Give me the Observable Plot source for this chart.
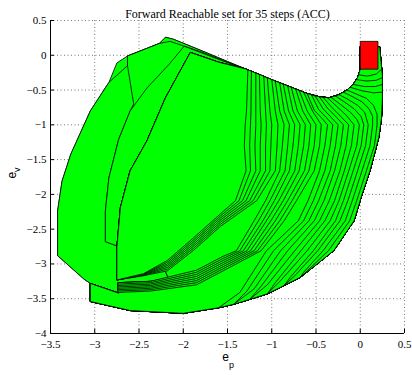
<!DOCTYPE html>
<html><head><meta charset="utf-8">
<script src="https://cdn.jsdelivr.net/npm/d3@7"></script>
<script src="https://cdn.jsdelivr.net/npm/@observablehq/plot@0.6"></script>
<style>body{margin:0;background:#fff;}#chart{width:412px;height:375px;}</style>
</head><body><div id="chart"></div>
<script>
const titleText = "Forward Reachable set for 35 steps (ACC)";
const xTicks = [-3.5,-3,-2.5,-2,-1.5,-1,-0.5,0,0.5];
const yTicks = [-4,-3.5,-3,-2.5,-2,-1.5,-1,-0.5,0,0.5];

// initial set (step 0)
const initialSet = [[0,-0.2],[0.2,-0.2],[0.2,0.2],[0,0.2]];
const boxCorner = [0.00,0.12];

// shared upper boundary (left -> right)
const topCurve = [[-1.80,0.07],[-1.50,-0.09],[-1.25,-0.22],[-1.00,-0.35],[-0.80,-0.45],[-0.60,-0.55],[-0.45,-0.60],[-0.35,-0.61],[-0.25,-0.57],[-0.15,-0.50],[-0.08,-0.42],[-0.03,-0.32],[0.00,-0.20]];
// outer right / bottom boundary (clockwise from top right)
const rightPath = [[0.22,0.12],[0.23,-0.03],[0.25,-0.30],[0.25,-0.61],[0.24,-0.90],[0.21,-1.18],[0.11,-1.66],[0.02,-2.00],[-0.07,-2.38],[-0.30,-2.81],[-0.675,-3.19],[-0.86,-3.31],[-1.05,-3.43],[-1.25,-3.51],[-1.43,-3.58],[-1.60,-3.63],[-2.00,-3.71],[-2.60,-3.67],[-3.05,-3.54],[-3.05,-3.28]];
// left boundaries of the largest sets
const left35 = [[-3.12,-3.22],[-3.42,-2.88],[-3.42,-2.24],[-3.37,-1.81],[-3.27,-1.42],[-3.05,-0.80],[-2.84,-0.39],[-2.75,-0.11],[-2.63,-0.01],[-2.37,0.12],[-2.27,0.17],[-2.20,0.26],[-2.11,0.23]];
const left34 = [[-3.12,-3.22],[-3.42,-2.88],[-3.42,-2.24],[-3.37,-1.81],[-3.27,-1.42],[-3.05,-0.80],[-2.84,-0.39],[-2.63,-0.15],[-2.63,-0.01],[-2.37,0.12],[-2.27,0.17],[-2.20,0.26],[-2.11,0.23]];
const bottomClose = [[-2.73,-3.42],[-2.74,-3.27],[-2.37,-3.25],[-2.17,-3.20],[-2.22,-3.05],[-2.45,-3.15],[-2.75,-3.23]];
const left33 = [[-2.75,-2.74],[-2.88,-2.68],[-2.88,-2.24],[-2.84,-1.76],[-2.73,-1.21],[-2.60,-0.80],[-2.56,-0.70],[-2.63,-0.15],[-2.63,-0.01],[-2.37,0.12],[-2.27,0.17],[-2.15,0.20],[-1.80,0.05],[-1.50,-0.10],[-1.30,-0.195]];
const left32 = [[-2.75,-2.74],[-2.88,-2.68],[-2.88,-2.24],[-2.84,-1.76],[-2.73,-1.21],[-2.60,-0.80],[-2.41,-0.47],[-2.16,-0.13],[-1.99,0.13],[-1.70,-0.01],[-1.45,-0.13],[-1.30,-0.195]];
const left31 = [[-2.75,-2.76],[-2.71,-2.19],[-2.60,-1.66],[-2.41,-1.23],[-2.20,-0.61],[-1.92,0.04],[-1.60,-0.10],[-1.30,-0.195]];

// inner arcs closing on left31 (steps 24..30)
const innerArcs = [
 [[-1.00,-0.35],[-0.96,-0.8],[-0.93,-1.0],[-0.94,-1.3],[-0.96,-1.66],[-1.17,-2.09],[-1.58,-2.46],[-1.88,-2.80],[-2.18,-3.10],[-2.45,-3.17],[-2.75,-3.23]],
 [[-1.05,-0.325],[-1.02,-0.8],[-1.00,-1.0],[-1.01,-1.3],[-1.02,-1.66],[-1.21,-2.09],[-1.58,-2.43],[-1.88,-2.77],[-2.18,-3.075],[-2.45,-3.165],[-2.75,-3.23]],
 [[-1.09,-0.30],[-1.07,-0.8],[-1.06,-1.0],[-1.07,-1.3],[-1.07,-1.66],[-1.25,-2.09],[-1.58,-2.40],[-1.88,-2.74],[-2.18,-3.05],[-2.45,-3.16],[-2.75,-3.23]],
 [[-1.14,-0.275],[-1.13,-0.8],[-1.12,-1.0],[-1.13,-1.3],[-1.13,-1.66],[-1.29,-2.09],[-1.58,-2.37],[-1.88,-2.71],[-2.18,-3.025],[-2.45,-3.155],[-2.75,-3.23]],
 [[-1.18,-0.255],[-1.18,-0.8],[-1.18,-1.0],[-1.19,-1.3],[-1.18,-1.66],[-1.33,-2.09],[-1.58,-2.34],[-1.88,-2.68],[-2.18,-3.00],[-2.45,-3.15],[-2.75,-3.23]],
 [[-1.23,-0.23],[-1.235,-0.8],[-1.24,-1.0],[-1.25,-1.3],[-1.24,-1.66],[-1.37,-2.09],[-1.58,-2.31],[-1.88,-2.65],[-2.18,-2.975],[-2.45,-3.145],[-2.75,-3.23]],
 [[-1.27,-0.21],[-1.285,-0.8],[-1.30,-1.0],[-1.31,-1.3],[-1.29,-1.66],[-1.41,-2.09],[-1.58,-2.28],[-1.88,-2.62],[-2.18,-2.95],[-2.45,-3.14],[-2.75,-3.23]]
];

// middle arcs ending at the lower-left notch (steps 16..23)
const middleArcs = [
 [[-0.64,-0.53],[-0.54,-0.8],[-0.44,-1.0],[-0.46,-1.3],[-0.52,-1.66],[-0.72,-2.09],[-0.86,-2.38],[-1.12,-2.81],[-1.55,-3.10],[-1.85,-3.30],[-2.37,-3.39],[-2.74,-3.41],[-2.73,-3.42],[-3.05,-3.28]],
 [[-0.69,-0.505],[-0.60,-0.8],[-0.50,-1.0],[-0.52,-1.3],[-0.58,-1.66],[-0.77,-2.09],[-0.91,-2.38],[-1.16,-2.81],[-1.55,-3.07],[-1.85,-3.27],[-2.37,-3.37],[-2.74,-3.39],[-2.73,-3.42],[-3.05,-3.28]],
 [[-0.73,-0.485],[-0.65,-0.8],[-0.56,-1.0],[-0.58,-1.3],[-0.63,-1.66],[-0.82,-2.09],[-0.96,-2.38],[-1.20,-2.81],[-1.55,-3.04],[-1.85,-3.24],[-2.37,-3.35],[-2.74,-3.37],[-2.73,-3.42],[-3.05,-3.28]],
 [[-0.78,-0.46],[-0.71,-0.8],[-0.62,-1.0],[-0.64,-1.3],[-0.69,-1.66],[-0.87,-2.09],[-1.01,-2.38],[-1.24,-2.81],[-1.55,-3.01],[-1.85,-3.21],[-2.37,-3.33],[-2.74,-3.35],[-2.73,-3.42],[-3.05,-3.28]],
 [[-0.82,-0.44],[-0.76,-0.8],[-0.68,-1.0],[-0.70,-1.3],[-0.74,-1.66],[-0.92,-2.09],[-1.06,-2.38],[-1.28,-2.81],[-1.55,-2.98],[-1.85,-3.18],[-2.37,-3.31],[-2.74,-3.33],[-2.73,-3.42],[-3.05,-3.28]],
 [[-0.87,-0.415],[-0.81,-0.8],[-0.74,-1.0],[-0.76,-1.3],[-0.80,-1.66],[-0.97,-2.09],[-1.10,-2.38],[-1.32,-2.81],[-1.55,-2.95],[-1.85,-3.15],[-2.37,-3.29],[-2.74,-3.31],[-2.73,-3.42],[-3.05,-3.28]],
 [[-0.91,-0.395],[-0.86,-0.8],[-0.80,-1.0],[-0.82,-1.3],[-0.85,-1.66],[-1.02,-2.09],[-1.15,-2.38],[-1.36,-2.81],[-1.55,-2.92],[-1.85,-3.12],[-2.37,-3.27],[-2.74,-3.29],[-2.73,-3.42],[-3.05,-3.28]],
 [[-0.96,-0.37],[-0.91,-0.8],[-0.86,-1.0],[-0.88,-1.3],[-0.91,-1.66],[-1.07,-2.09],[-1.20,-2.38],[-1.40,-2.81],[-1.55,-2.89],[-1.85,-3.09],[-2.37,-3.25],[-2.74,-3.27],[-2.73,-3.42],[-3.05,-3.28]]
];
const middleCut = [19,19,19,19,19,19,19,19];

// outer arcs hugging the boundary (steps 5..15)
const outerArcs = [
 [[-0.15,-0.50],[-0.04,-0.56],[0.07,-0.62],[0.15,-0.72],[0.19,-0.85],[0.19,-1.0],[0.16,-1.3],[0.07,-1.66],[-0.04,-2.09],[-0.12,-2.38],[-0.36,-2.81],[-0.60,-3.10],[-0.675,-3.19]],
 [[-0.19,-0.53],[-0.08,-0.60],[0.02,-0.67],[0.10,-0.77],[0.14,-0.88],[0.14,-1.0],[0.11,-1.3],[0.02,-1.66],[-0.09,-2.09],[-0.17,-2.38],[-0.42,-2.81],[-0.64,-3.12],[-0.675,-3.19]],
 [[-0.24,-0.565],[-0.13,-0.64],[-0.03,-0.72],[0.05,-0.82],[0.09,-1.0],[0.06,-1.3],[-0.03,-1.66],[-0.14,-2.09],[-0.23,-2.38],[-0.48,-2.81],[-0.74,-3.17],[-0.86,-3.31]],
 [[-0.28,-0.585],[-0.18,-0.67],[-0.07,-0.77],[0.01,-0.88],[0.04,-1.0],[0.01,-1.3],[-0.08,-1.66],[-0.19,-2.09],[-0.28,-2.38],[-0.53,-2.81],[-0.79,-3.19],[-0.86,-3.31]],
 [[-0.33,-0.605],[-0.22,-0.71],[-0.11,-0.82],[-0.04,-0.92],[-0.01,-1.0],[-0.04,-1.3],[-0.13,-1.66],[-0.24,-2.09],[-0.34,-2.38],[-0.60,-2.81],[-0.90,-3.24],[-1.05,-3.43]],
 [[-0.37,-0.61],[-0.27,-0.73],[-0.16,-0.86],[-0.07,-1.0],[-0.10,-1.3],[-0.18,-1.66],[-0.29,-2.09],[-0.40,-2.38],[-0.67,-2.81],[-0.96,-3.27],[-1.05,-3.43]],
 [[-0.42,-0.605],[-0.32,-0.75],[-0.22,-0.88],[-0.13,-1.0],[-0.16,-1.3],[-0.23,-1.66],[-0.35,-2.09],[-0.46,-2.38],[-0.74,-2.81],[-1.05,-3.30],[-1.25,-3.51]],
 [[-0.46,-0.60],[-0.37,-0.76],[-0.27,-0.89],[-0.19,-1.0],[-0.22,-1.3],[-0.29,-1.66],[-0.41,-2.09],[-0.52,-2.38],[-0.82,-2.81],[-1.12,-3.32],[-1.25,-3.51]],
 [[-0.51,-0.585],[-0.42,-0.77],[-0.33,-0.89],[-0.25,-1.0],[-0.28,-1.3],[-0.34,-1.66],[-0.47,-2.09],[-0.58,-2.38],[-0.90,-2.81],[-1.20,-3.36],[-1.43,-3.58]],
 [[-0.55,-0.57],[-0.47,-0.78],[-0.38,-0.90],[-0.31,-1.0],[-0.34,-1.3],[-0.40,-1.66],[-0.53,-2.09],[-0.64,-2.38],[-0.98,-2.81],[-1.28,-3.39],[-1.43,-3.58]],
 [[-0.60,-0.55],[-0.52,-0.79],[-0.43,-0.91],[-0.37,-1.0],[-0.40,-1.3],[-0.46,-1.66],[-0.59,-2.09],[-0.70,-2.38],[-1.06,-2.81],[-1.36,-3.41],[-1.60,-3.63]]
];
const outerCut = [10,10,11,11,12,12,13,13,14,14,15];

// first sets around the initial box (steps 1..4)
const smallArcs = [
 [[-0.02,-0.28],[0.08,-0.30],[0.18,-0.27],[0.243,-0.20]],
 [[-0.045,-0.35],[0.07,-0.37],[0.18,-0.36],[0.25,-0.32]],
 [[-0.08,-0.42],[0.05,-0.45],[0.17,-0.45],[0.25,-0.42]],
 [[-0.115,-0.46],[0.02,-0.51],[0.15,-0.54],[0.25,-0.53]]
];
const smallCut = [2,3,3,3];

// ---- build polygons (largest drawn first) ----
function rightSet(arc, cut) {
  const a = arc[0];
  return [a, ...topCurve.filter(p => p[0] > a[0]), boxCorner, ...rightPath.slice(0, cut), ...arc.slice().reverse()];
}
function leftSet(arc) {
  const a = arc[0];
  return [...arc, ...left31, ...topCurve.filter(p => p[0] > -1.30 && p[0] < a[0]), a];
}
const sets = [];
sets.push([boxCorner, ...rightPath, ...left35, ...topCurve]);
sets.push([boxCorner, ...rightPath, ...left34, ...topCurve]);
sets.push([boxCorner, ...rightPath, ...bottomClose, ...left33, ...topCurve.filter(p => p[0] > -1.30)]);
sets.push([boxCorner, ...rightPath, ...bottomClose, ...left32, ...topCurve.filter(p => p[0] > -1.30)]);
sets.push([boxCorner, ...rightPath, ...bottomClose, ...left31, ...topCurve.filter(p => p[0] > -1.30)]);
innerArcs.forEach(arc => sets.push(leftSet(arc)));
for (let i = middleArcs.length - 1; i >= 0; i--) sets.push(rightSet(middleArcs[i], middleCut[i]));
for (let i = outerArcs.length - 1; i >= 0; i--) sets.push(rightSet(outerArcs[i], outerCut[i]));
for (let i = smallArcs.length - 1; i >= 0; i--) sets.push(rightSet(smallArcs[i], smallCut[i]));

const rows = [];
sets.forEach((poly, i) => {
  poly.forEach(([x, y]) => rows.push({set: i, x, y}));
  rows.push({set: i, x: poly[0][0], y: poly[0][1]});
});
const boxRows = [...initialSet, initialSet[0]].map(([x, y]) => ({x, y}));

const serif = "'Liberation Serif','Times New Roman',Times,serif";
const sans = "'Liberation Sans',Arial,Helvetica,sans-serif";
const fmt = d => (d < 0 ? "\u2212" : "") + String(Math.abs(d));

const chart = Plot.plot({
  width: 412, height: 375,
  marginLeft: 50, marginRight: 8, marginTop: 20, marginBottom: 42,
  x: {domain: [-3.5, 0.5]},
  y: {domain: [-4, 0.5]},
  style: {fontFamily: serif, fontSize: "11px", background: "white", color: "black"},
  marks: [
    Plot.ruleX(xTicks, {stroke: "#777", strokeDasharray: "1,2.5", strokeWidth: 1}),
    Plot.ruleY(yTicks, {stroke: "#777", strokeDasharray: "1,2.5", strokeWidth: 1}),
    Plot.line(rows, {x: "x", y: "y", z: "set", fill: "#00ff00", stroke: "black", strokeWidth: 0.8, strokeLinejoin: "miter", curve: "linear"}),
    Plot.line(boxRows, {x: "x", y: "y", fill: "#ff0000", stroke: "black", strokeWidth: 0.8, strokeLinejoin: "miter"}),
    Plot.ruleX([-3.5], {stroke: "black", strokeWidth: 1}),
    Plot.ruleY([-4], {stroke: "black", strokeWidth: 1}),
    Plot.ruleX(xTicks, {y1: () => -4, y2: () => -3.94, stroke: "black"}),
    Plot.ruleY(yTicks, {x1: () => -3.5, x2: () => -3.455, stroke: "black"}),
    Plot.axisX(xTicks, {anchor: "bottom", tickSize: 0, tickPadding: 6.5, label: null, tickFormat: fmt, fontFamily: serif, fontSize: 11}),
    Plot.axisY(yTicks, {anchor: "left", tickSize: 0, tickPadding: 4, label: null, tickFormat: fmt, fontFamily: serif, fontSize: 11}),
    Plot.text([titleText], {text: d => d, frameAnchor: "top", dy: -11, fontSize: 12, fontFamily: serif}),
    Plot.text(["e"], {text: d => d, frameAnchor: "bottom", dx: -2, dy: 27.5, fontSize: 12, fontFamily: sans}),
    Plot.text(["p"], {text: d => d, frameAnchor: "bottom", dx: 4, dy: 34, fontSize: 9, fontFamily: sans}),
    Plot.text(["e"], {text: d => d, frameAnchor: "left", dx: -38.5, dy: 1.5, rotate: -90, fontSize: 12, fontFamily: sans}),
    Plot.text(["v"], {text: d => d, frameAnchor: "left", dx: -33.5, dy: -5, rotate: -90, fontSize: 9, fontFamily: sans})
  ]
});
document.getElementById("chart").appendChild(chart);
</script>
</body></html>
